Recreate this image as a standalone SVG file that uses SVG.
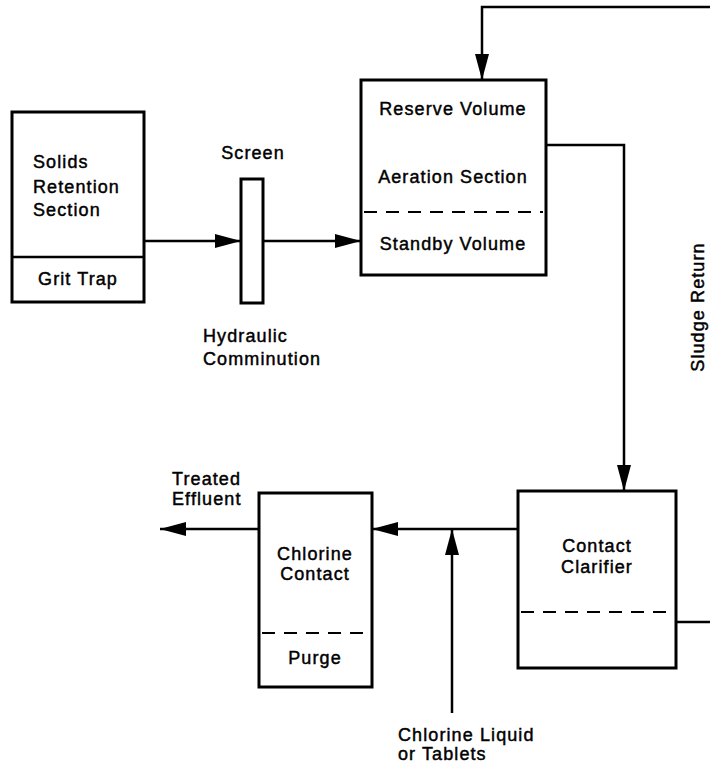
<svg xmlns="http://www.w3.org/2000/svg" width="710" height="763" viewBox="0 0 710 763">
<style>
.box{fill:#fff;stroke:#000;stroke-width:3}
.div{stroke:#000;stroke-width:2.5;fill:none}
.dash{stroke:#000;stroke-width:2;stroke-dasharray:13,9;fill:none}
.con{stroke:#000;stroke-width:2.5;fill:none}
text{font-family:"Liberation Sans",Arial,sans-serif;font-size:18px;fill:#000;stroke:#000;stroke-width:0.45;letter-spacing:1.1px}
.c{text-anchor:middle}
</style>
<defs>
<marker id="ahb" markerWidth="26" markerHeight="14" refX="26" refY="7" orient="auto" markerUnits="userSpaceOnUse" viewBox="0 0 26 14">
<path d="M0,0 L26,7 L0,14 Z" fill="#000"/>
</marker>
</defs>
<g id="connectors">
<path class="con" d="M144,241 H241" marker-end="url(#ahb)"/>
<path class="con" d="M263,241 H361" marker-end="url(#ahb)"/>
<path class="con" d="M710,7 H482 V80" marker-end="url(#ahb)"/>
<path class="con" d="M546,145 H624 V491" marker-end="url(#ahb)"/>
<path class="con" d="M676,622 H710"/>
<path class="con" d="M518,529 H372" marker-end="url(#ahb)"/>
<path class="con" d="M259,529 H160" marker-end="url(#ahb)"/>
<path class="con" d="M452,713 V529" marker-end="url(#ahb)"/>
</g>
<g id="solids">
<rect class="box" x="12" y="112" width="132" height="190"/>
<line class="div" x1="12" y1="257" x2="144" y2="257"/>
<text x="33" y="168">Solids</text>
<text x="33" y="193">Retention</text>
<text x="33" y="216">Section</text>
<text x="78" y="285" class="c">Grit Trap</text>
</g>
<g id="screen">
<rect class="box" x="241" y="179" width="22" height="124"/>
<text x="253" y="159" class="c">Screen</text>
<text x="203" y="342">Hydraulic</text>
<text x="203" y="365">Comminution</text>
</g>
<g id="aeration">
<rect class="box" x="361" y="80" width="185" height="195"/>
<line class="dash" x1="364" y1="212" x2="543" y2="212"/>
<text x="453" y="115" class="c">Reserve Volume</text>
<text x="453" y="183" class="c">Aeration Section</text>
<text x="453" y="250" class="c">Standby Volume</text>
</g>
<g id="clarifier">
<rect class="box" x="518" y="491" width="158" height="177"/>
<line class="dash" x1="521" y1="612" x2="673" y2="612"/>
<text x="597" y="552" class="c">Contact</text>
<text x="597" y="573" class="c">Clarifier</text>
</g>
<g id="chlorine">
<rect class="box" x="259" y="493" width="113" height="194"/>
<line class="dash" x1="262" y1="633" x2="369" y2="633"/>
<text x="315" y="560" class="c">Chlorine</text>
<text x="315" y="580" class="c">Contact</text>
<text x="315" y="664" class="c">Purge</text>
</g>
<g id="labels">
<text x="172" y="485">Treated</text>
<text x="172" y="505">Effluent</text>
<text x="398" y="741">Chlorine Liquid</text>
<text x="398" y="760">or Tablets</text>
<text x="704" y="307" class="c" transform="rotate(-90 704 307)">Sludge Return</text>
</g>
</svg>
